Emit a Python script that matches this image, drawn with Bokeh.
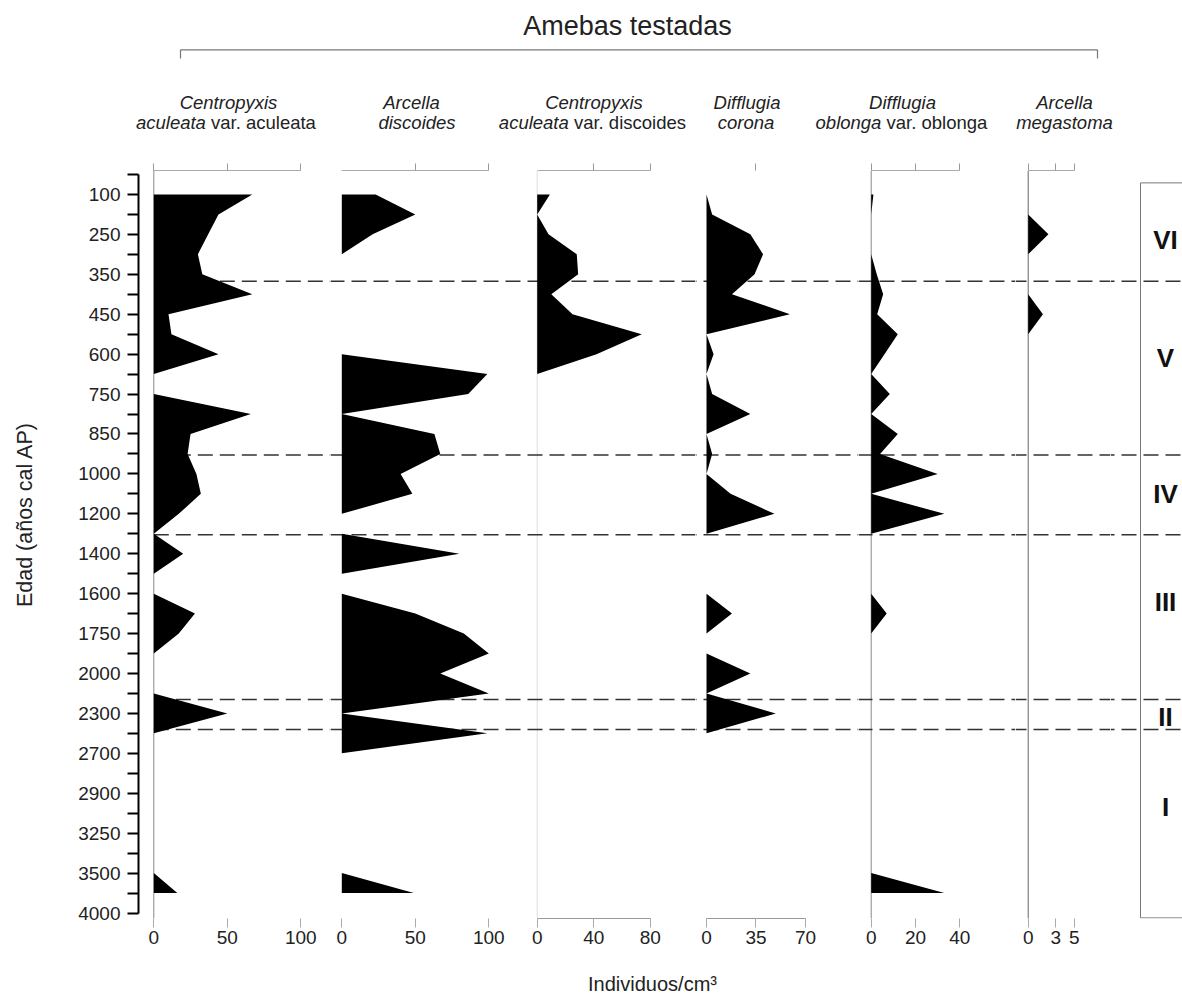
import math
from bokeh.plotting import figure
from bokeh.models import Range1d, LinearAxis, FixedTicker, Span, ColumnDataSource
from bokeh.layouts import column, row
from bokeh.embed import file_html
from bokeh.resources import INLINE
from bokeh.core.properties import value

# ------------------------------------------------------------------ data
# age axis (años cal AP): one tick per level, labels on every other tick
age_label_levels = [1, 3, 5, 7, 9, 11, 13, 15, 17, 19, 21, 23, 25, 27, 29, 31, 33, 35, 37]
age_labels = ["100", "250", "350", "450", "600", "750", "850", "1000", "1200", "1400",
              "1600", "1750", "2000", "2300", "2700", "2900", "3250", "3500", "4000"]
age_minor_levels = [0, 2, 4, 6, 8, 10, 12, 14, 16, 18, 20, 22, 24, 26, 28, 30, 32, 34, 36]
levels = [1, 2, 3, 4, 5, 6, 7, 8, 9, 10, 11, 12, 13, 14, 15, 16, 17, 18,
          19, 20, 21, 22, 23, 24, 25, 26, 27, 28, 29, 30, 31, 32, 33, 34, 35, 36]

# Individuos/cm3 per level
c_aculeata = [67, 44, 37, 30, 33, 67, 10, 12, 44, 0, 0, 66, 25, 23, 29, 32, 17, 0,
              20, 0, 0, 28, 17, 0, 0, 0, 50, 0, 0, 0, 0, 0, 0, 0, 0, 16]
a_discoides = [23, 50, 21, 0, 0, 0, 0, 0, 0, 99, 86, 0, 63, 67, 40, 48, 0, 0,
               80, 0, 0, 50, 83, 100, 67, 100, 0, 99, 0, 0, 0, 0, 0, 0, 0, 49]
c_discoides = [9, 0, 8, 28, 29, 10, 25, 74, 42, 0, 0, 0, 0, 0, 0, 0, 0, 0,
               0, 0, 0, 0, 0, 0, 0, 0, 0, 0, 0, 0, 0, 0, 0, 0, 0, 0]
d_corona = [0, 4, 31, 40, 34, 18, 59, 0, 5, 0, 4, 31, 0, 4, 0, 17, 48, 0,
            0, 0, 0, 18, 0, 0, 31, 0, 49, 0, 0, 0, 0, 0, 0, 0, 0, 0]
d_oblonga = [1, 0, 0, 0, 2.5, 5.4, 2.7, 12, 6, 0, 8.4, 0, 12, 4, 30, 0, 33, 0,
             0, 0, 0, 7, 0, 0, 0, 0, 0, 0, 0, 0, 0, 0, 0, 0, 0, 33]
a_megastoma = [0, 0, 2.2, 0, 0, 0, 1.6, 0, 0, 0, 0, 0, 0, 0, 0, 0, 0, 0,
               0, 0, 0, 0, 0, 0, 0, 0, 0, 0, 0, 0, 0, 0, 0, 0, 0, 0]
series = [c_aculeata, a_discoides, c_discoides, d_corona, d_oblonga, a_megastoma]

top_ticks = [[0, 50, 100], [50, 100], [40, 80], [35], [0, 20, 40], [0, 3, 5]]
bottom_ticks = [[0, 50, 100], [0, 50, 100], [0, 40, 80], [0, 35, 70], [0, 20, 40], [0, 3, 5]]

species_line1 = ["Centropyxis", "Arcella", "Centropyxis", "Difflugia", "Difflugia", "Arcella"]
species_line2_italic = ["aculeata", "discoides", "aculeata", "corona", "oblonga", "megastoma"]
species_line2_roman = ["var. aculeata", "", "var. discoides", "", "var. oblonga", ""]

zone_bounds = [5.35, 14.05, 18.05, 26.3, 27.8]
zone_names = ["VI", "V", "IV", "III", "II", "I"]
zone_label_levels = [3.3, 9.2, 16.0, 21.4, 27.2, 31.7]

# ------------------------------------------------------------------ layout constants
FONT = "Liberation Sans"
W, H = 1182, 994
TOP_H = 158
PANEL_H = 800
BOT_H = H - TOP_H - PANEL_H
BORDER_TOP = 12
BORDER_BOTTOM = 40
PX_PER_LEVEL = 19.96
Y_TOP = -0.2
frame_h = PANEL_H - BORDER_TOP - BORDER_BOTTOM
Y_BOTTOM = Y_TOP + frame_h / PX_PER_LEVEL
y_range = Range1d(Y_BOTTOM, Y_TOP)

YLABEL_W = 60
canvas_edges = [YLABEL_W, 330, 525, 695, 858, 1015, 1110, 1182]
first_frame_left = 138
zero_px = [153.3, 341.3, 536.7, 706.0, 870.7, 1027.7]
px_per_unit = [1.47, 1.47, 1.4125, 1.414, 2.215, 9.2]
bottom_line = [False, False, True, True, False, False]
top_line = [True, True, True, False, True, True]
zero_line_color = ["#8a8a8a", None, "#dddddd", None, "#888888", "#666666"]

DASH = "15 7"
DASH_PERIOD = 22
DASH_COLOR = "#333333"
TXT = "#222222"


def base_fig(width, height, x_range, yr, **kw):
    p = figure(width=width, height=height, x_range=x_range, y_range=yr,
               x_axis_location=None, y_axis_location=None,
               toolbar_location=None, output_backend="svg",
               outline_line_color=None, background_fill_color="white",
               border_fill_color="white", **kw)
    p.grid.visible = False
    return p


def dashed_spans(p, frame_left):
    off = int(round((frame_left - zero_px[0]) % DASH_PERIOD))
    for z in zone_bounds:
        p.add_layout(Span(location=z, dimension="width", line_color=DASH_COLOR,
                          line_width=1.5, line_dash=DASH, line_dash_offset=off,
                          level="underlay"))


# y-axis title strip
py = base_fig(YLABEL_W, PANEL_H, Range1d(0, YLABEL_W), y_range,
              min_border_left=0, min_border_right=0,
              min_border_top=BORDER_TOP, min_border_bottom=BORDER_BOTTOM)
py.text(x=[24], y=[(514 - 170) / PX_PER_LEVEL + Y_TOP], text=["Edad (años cal AP)"],
        angle=math.pi / 2, text_font=value(FONT), text_font_size="21.5px",
        text_align="center", text_baseline="middle", text_color=TXT)

panels = [py]
for k in range(6):
    left_edge, right_edge = canvas_edges[k], canvas_edges[k + 1]
    frame_left = first_frame_left if k == 0 else left_edge
    xr = Range1d(-(zero_px[k] - frame_left) / px_per_unit[k],
                 (right_edge - zero_px[k]) / px_per_unit[k])
    p = base_fig(right_edge - left_edge, PANEL_H, xr, y_range,
                 min_border_left=frame_left - left_edge, min_border_right=0,
                 min_border_top=BORDER_TOP, min_border_bottom=BORDER_BOTTOM)

    # zero line
    if zero_line_color[k]:
        p.add_layout(Span(location=0, dimension="height", line_color=zero_line_color[k],
                          line_width=1, level="underlay"))

    # zone boundaries (dashed)
    if k == 0:
        p.segment(x0=0, x1=xr.end, y0=zone_bounds, y1=zone_bounds,
                  line_color=DASH_COLOR, line_width=1.5, line_dash=DASH, level="underlay")
    else:
        dashed_spans(p, frame_left)

    # silhouette
    src = ColumnDataSource(dict(level=levels, v=series[k]))
    p.harea(x1=0, x2="v", y="level", source=src, fill_color="black", fill_alpha=1.0)

    lo_t, hi_t = min(bottom_ticks[k]), max(bottom_ticks[k])
    # top axis (tick marks only, drawn as minor ticks so no labels)
    ax_top = LinearAxis(ticker=FixedTicker(ticks=[], minor_ticks=top_ticks[k]),
                        bounds=(lo_t, hi_t),
                        axis_line_color="#aaaaaa" if top_line[k] else None,
                        axis_line_width=1,
                        major_tick_out=0, major_tick_in=0,
                        minor_tick_line_color="#999999", minor_tick_out=7, minor_tick_in=0,
                        major_label_standoff=0)
    p.add_layout(ax_top, "above")

    # bottom axis
    ax_bot = LinearAxis(ticker=FixedTicker(ticks=bottom_ticks[k]),
                        bounds=(lo_t, hi_t),
                        axis_line_color="#999999" if bottom_line[k] else None,
                        axis_line_width=1,
                        major_tick_line_color="#aaaaaa", major_tick_out=9, major_tick_in=0,
                        minor_tick_out=0, minor_tick_in=0,
                        major_label_text_font=FONT, major_label_text_font_size="19px",
                        major_label_text_color=TXT, major_label_standoff=3)
    p.add_layout(ax_bot, "below")

    if k == 0:
        overrides = {lv: lab for lv, lab in zip(age_label_levels, age_labels)}
        yax = LinearAxis(ticker=FixedTicker(ticks=age_label_levels, minor_ticks=age_minor_levels),
                         bounds=(0, 37),
                         major_label_overrides=overrides,
                         axis_line_color="black", axis_line_width=2,
                         major_tick_line_color="black", major_tick_line_width=2,
                         major_tick_out=11, major_tick_in=0,
                         minor_tick_line_color="black", minor_tick_line_width=2,
                         minor_tick_out=11, minor_tick_in=0,
                         major_label_text_font=FONT, major_label_text_font_size="19px",
                         major_label_text_color=TXT, major_label_standoff=7)
        p.add_layout(yax, "left")
    panels.append(p)

# zone column
pz = base_fig(canvas_edges[7] - canvas_edges[6], PANEL_H,
              Range1d(canvas_edges[6], canvas_edges[7]), y_range,
              min_border_left=0, min_border_right=0, min_border_top=BORDER_TOP,
              min_border_bottom=BORDER_BOTTOM)
dashed_spans(pz, canvas_edges[6])
pz.quad(left=1140, right=1210, top=0.42, bottom=Y_BOTTOM - 0.03, fill_color=None,
        line_color="#777777", line_width=1)
zsrc = ColumnDataSource(dict(name=zone_names, lv=zone_label_levels))
pz.text(x=1165, y="lv", text="name", source=zsrc, text_font=value(FONT),
        text_font_size="26px", text_font_style="bold", text_align="center",
        text_baseline="middle", text_color="#111111")
panels.append(pz)

# header
pt = base_fig(W, TOP_H, Range1d(0, W), Range1d(TOP_H, 0),
              min_border_left=0, min_border_right=0, min_border_top=0, min_border_bottom=0)
pt.text(x=[627], y=[25], text=["Amebas testadas"], text_font=value(FONT),
        text_font_size="27px", text_align="center", text_baseline="middle",
        text_color=TXT)
pt.segment(x0=[180, 180, 1097], y0=[49.3, 49.3, 49.3], x1=[1097, 180, 1097], y1=[49.3, 58, 58],
           line_color="#777777", line_width=1.2)

L1_Y, L2_Y = 101.5, 122
l1_x = [228, 411, 593.5, 746.5, 902, 1064]
pt.text(x=l1_x, y=[L1_Y] * 6, text=species_line1, text_font=value(FONT),
        text_font_size="18.5px", text_font_style="italic", text_align="center",
        text_baseline="middle", text_color=TXT)
# second line: italic part + roman part
l2_center = [None, 416.5, None, 745.5, None, 1064]
l2_split = [205.4, None, 568.3, None, 880.9, None]
for k in range(6):
    if species_line2_roman[k]:
        pt.text(x=[l2_split[k]], y=[L2_Y], text=[species_line2_italic[k]], text_font=value(FONT),
                text_font_size="18.5px", text_font_style="italic", text_align="right",
                text_baseline="middle", text_color=TXT)
        pt.text(x=[l2_split[k] + 5.1], y=[L2_Y], text=[species_line2_roman[k]], text_font=value(FONT),
                text_font_size="18.5px", text_font_style="normal", text_align="left",
                text_baseline="middle", text_color=TXT)
    else:
        pt.text(x=[l2_center[k]], y=[L2_Y], text=[species_line2_italic[k]], text_font=value(FONT),
                text_font_size="18.5px", text_font_style="italic", text_align="center",
                text_baseline="middle", text_color=TXT)

# footer (x axis title)
pb = base_fig(W, BOT_H, Range1d(0, W), Range1d(BOT_H, 0),
              min_border_left=0, min_border_right=0, min_border_top=0, min_border_bottom=0)
pb.text(x=[652], y=[983 - (H - BOT_H)], text=["Individuos/cm³"], text_font=value(FONT),
        text_font_size="20px", text_align="center", text_baseline="middle",
        text_color=TXT)

layout = column(pt, row(*panels, spacing=0), pb, spacing=0)
open("out.html", "w").write(file_html(layout, INLINE))
